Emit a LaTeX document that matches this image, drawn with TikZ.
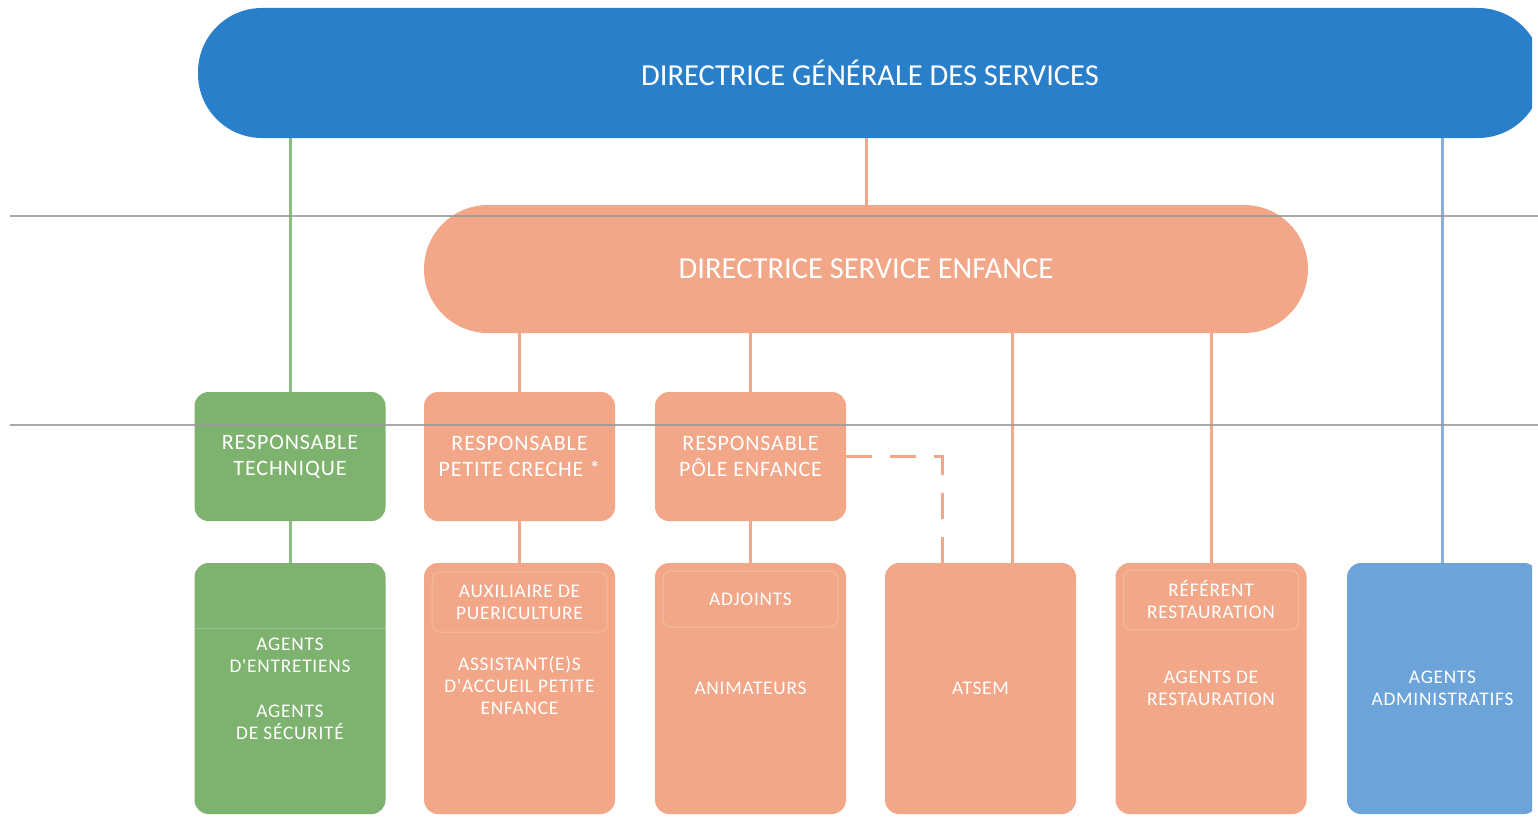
\documentclass[tikz,border=0pt]{standalone}
\usepackage{fontspec}
\setmainfont{Carlito}
\newfontfamily\widefont[LetterSpace=4]{Carlito}
\usetikzlibrary{calc}

\definecolor{dgsblue}{HTML}{2A7FCB}
\definecolor{salmon}{HTML}{F2A789}
\definecolor{techgreen}{HTML}{7DB26F}
\definecolor{techline}{HTML}{8CBF7E}
\definecolor{adminblue}{HTML}{6CA4DA}
\definecolor{adminline}{HTML}{8AAEE0}
\definecolor{scangray}{HTML}{9A9A9A}

\begin{document}
\begin{tikzpicture}[x=1pt,y=-1pt,
  pill/.style={rounded corners=64pt,minimum height=130pt,inner sep=0pt,text=white},
  boxtop/.style={rounded corners=14pt,minimum width=191pt,minimum height=129pt,inner sep=0pt,
    text=white,align=center,font=\widefont\fontsize{22}{26}\selectfont},
  boxlow/.style={rounded corners=14pt,minimum width=191pt,minimum height=251pt,inner sep=0pt,
    text=white,align=center,font=\widefont\fontsize{19.3}{22}\selectfont},
  subtxt/.style={draw=white,draw opacity=.22,line width=1pt,rounded corners=8pt,minimum width=175pt,
    minimum height=60pt,inner sep=0pt,text=white,align=center,font=\widefont\fontsize{19.3}{22}\selectfont},
  link/.style={line width=3pt}]
  \useasboundingbox (0,0) rectangle (1538,816);
  \begin{scope}
  \clip (0,0) rectangle (1532,816);
  % top level
  \node[pill,fill=dgsblue,minimum width=1344pt,font=\fontsize{30.5}{36}\selectfont] (dgs) at (870,73) {DIRECTRICE GÉNÉRALE DES SERVICES};
  \node[pill,fill=salmon,minimum width=884pt,minimum height=128pt,font=\fontsize{30.5}{36}\selectfont] (dse) at (866,269) {DIRECTRICE SERVICE ENFANCE};
  % responsables
  \node[boxtop,fill=techgreen] (tech) at (290,456.5) {RESPONSABLE\\TECHNIQUE};
  \node[boxtop,fill=salmon] (creche) at (519.5,456.5) {RESPONSABLE\\PETITE CRECHE *};
  \node[boxtop,fill=salmon] (pole) at (750.5,456.5) {RESPONSABLE\\PÔLE ENFANCE};
  % agents
  \node[boxlow,fill=techgreen] (entretien) at (290,688.5) {AGENTS\\D'ENTRETIENS\\[23pt]AGENTS\\DE SÉCURITÉ};
  \node[boxlow,fill=salmon] (accueil) at (519.5,688.5) {\\[-13pt]ASSISTANT(E)S\\D'ACCUEIL PETITE\\ENFANCE};
  \node[boxlow,fill=salmon] (anim) at (750.5,688.5) {ANIMATEURS};
  \node[boxlow,fill=salmon] (atsem) at (980.5,688.5) {ATSEM};
  \node[boxlow,fill=salmon] (resto) at (1211,688.5) {AGENTS DE\\RESTAURATION};
  \node[boxlow,fill=adminblue] (admin) at (1442.5,688.5) {AGENTS\\ADMINISTRATIFS};
  \node[subtxt] (auxi) at (519.5,602) {AUXILIAIRE DE\\PUERICULTURE};
  \node[subtxt,minimum height=56pt] (adjoint) at (750.5,599) {ADJOINTS};
  \node[subtxt] (referent) at (1211,600) {RÉFÉRENT\\RESTAURATION};
  \draw[white,opacity=.22,line width=1pt] (entretien.west |- 0,628) -- (entretien.east |- 0,628);
  \coordinate (atsemin) at (1012,563);
  \coordinate (atsemdash) at (942,563);
  % liens
  \draw[link,salmon] (dse.north) -- (dse.north |- dgs.south);
  \draw[link,techline] (tech.north) -- (tech.north |- dgs.south);
  \draw[link,adminline] (admin.north) -- (admin.north |- dgs.south);
  \draw[link,salmon] (creche.north) -- (creche.north |- dse.south);
  \draw[link,salmon] (pole.north) -- (pole.north |- dse.south);
  \draw[link,salmon] (atsemin) -- (atsemin |- dse.south);
  \draw[link,salmon] (resto.north) -- (resto.north |- dse.south);
  \draw[link,techline] (tech) -- (entretien);
  \draw[link,salmon] (creche) -- (accueil);
  \draw[link,salmon] (pole) -- (anim);
  \draw[link,salmon,dash pattern=on 26pt off 18pt] (pole.east) -- (pole.east -| atsemdash) -- (atsemdash);
  \end{scope}
  % traits du scan
  \draw[scangray,line width=1.6pt,opacity=.85] (10,216) -- (1538,216);
  \draw[scangray,line width=1.6pt,opacity=.85] (10,425) -- (1538,425);
\end{tikzpicture}
\end{document}
